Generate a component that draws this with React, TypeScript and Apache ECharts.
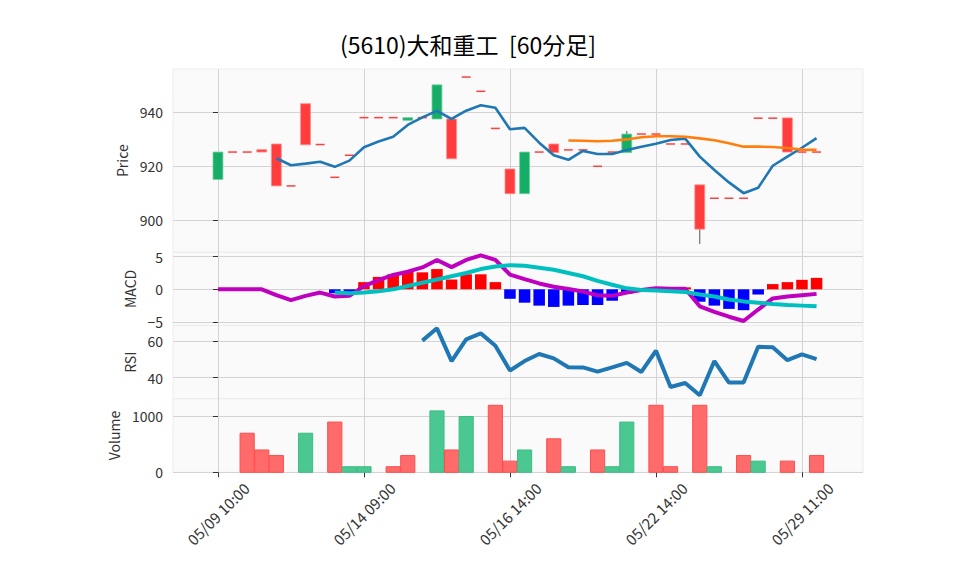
import React, { useEffect, useRef } from "react";
import * as echarts from "echarts";

const TITLE = "(5610)大和重工  [60分足]";
const X_TICK_INDEX = [0, 10, 20, 30, 40];
const X_TICK_LABELS = ["05/09 10:00", "05/14 09:00", "05/16 14:00", "05/22 14:00", "05/29 11:00"];

const OPEN = [915, 925.2, 925.2, 926.1, 928.2, 912.6, 943.2, 928, 915.8, 924, 938, 938, 938, 937, 938, 937.5, 937.5, 953.1, 947.8, 934, 918.9, 909.7, 925.2, 928.2, 926, 926, 919.9, 925.2, 925, 931.9, 931.9, 928.2, 928.2, 913, 908, 908, 908, 937.8, 937.8, 937.9, 925.2, 925.2];
const CLOSE = [925.2, 925.2, 925.2, 925.2, 912.6, 912.6, 927.9, 928, 915.8, 924, 938, 938, 938, 938, 938, 950.2, 922.7, 953.1, 947.8, 934, 909.7, 925.2, 925.2, 925.0, 926, 926, 919.9, 925.2, 931.9, 931.9, 931.9, 928.2, 928.2, 896.5, 908, 908, 908, 937.8, 937.8, 925.2, 925.2, 925.2];
const LOW = [915, 925.2, 925.2, 925.2, 912.6, 912.6, 927.9, 928, 915.8, 924, 938, 938, 938, 937, 938, 937.5, 922.7, 953.1, 947.8, 934, 909.7, 909.7, 925.2, 925.0, 926, 926, 919.9, 925.2, 925, 931.9, 931.9, 928.2, 928.2, 891, 908, 908, 908, 937.8, 937.8, 925.2, 925.2, 925.2];
const HIGH = [925.2, 925.2, 925.2, 926.1, 928.2, 912.6, 943.2, 928, 915.8, 924, 938, 938, 938, 938, 938, 950.2, 937.5, 953.1, 947.8, 934, 918.9, 925.2, 925.2, 928.2, 926, 926, 919.9, 925.2, 933, 931.9, 931.9, 928.2, 928.2, 913, 908, 908, 908, 937.8, 937.8, 937.9, 925.2, 925.2];
const VOLUME = [0, 0, 700, 400, 300, 0, 700, 0, 900, 100, 100, 0, 100, 300, 0, 1100, 400, 1000, 0, 1200, 200, 400, 0, 600, 100, 0, 400, 100, 900, 0, 1200, 100, 0, 1200, 100, 0, 300, 200, 0, 200, 0, 300];

const MA5 = [null, null, null, null, 922.9, 920.3, 920.9, 921.6, 919.7, 922, 927, 929.1, 930.9, 935.3, 938.1, 940.5, 937.5, 940.6, 942.6, 941.7, 933.7, 934.2, 928.7, 924, 922.3, 925.6, 924.5, 924.5, 926, 927.2, 928.3, 929.7, 930.2, 923.5, 918.5, 913.9, 909.9, 911.9, 920.1, 923.5, 926.8, 930.4];
const MA25 = [null, null, null, null, null, null, null, null, null, null, null, null, null, null, null, null, null, null, null, null, null, null, null, null, 929.5, 929.4, 929.2, 929.4, 929.9, 930.7, 931.1, 931.1, 930.9, 930.3, 929.6, 928.5, 927.2, 927.2, 927.1, 926.7, 926.1, 926.0];

const MACD = [0, 0, 0, 0, -0.9, -1.65, -1.0, -0.5, -1.1, -1.0, 0.5, 1.4, 2.2, 2.7, 3.35, 4.5, 3.4, 4.5, 5.2, 4.5, 2.25, 1.55, 0.9, 0.4, 0.05, -0.35, -0.9, -1.0, -0.5, -0.1, 0.15, 0.1, 0.1, -2.6, -3.45, -4.2, -4.85, -3.1, -1.4, -1.1, -0.9, -0.7];
const SIGNAL = [null, null, null, null, null, null, null, null, -0.5, -0.6, -0.5, -0.3, 0, 0.5, 1.0, 1.5, 2.0, 2.5, 3.1, 3.5, 3.7, 3.6, 3.3, 3.0, 2.5, 2.0, 1.3, 0.7, 0.15, -0.1, -0.2, -0.3, -0.4, -0.8, -1.1, -1.55, -1.85, -2.05, -2.25, -2.4, -2.5, -2.6];
const HIST = [null, null, null, null, null, null, null, null, -0.6, -0.45, 1.1, 1.9, 2.3, 2.7, 2.6, 3.1, 1.5, 2.3, 2.3, 1.1, -1.45, -2.05, -2.5, -2.7, -2.5, -2.4, -2.4, -1.75, -0.65, 0, 0.3, 0.35, 0.3, -1.9, -2.5, -3.0, -3.2, -0.8, 0.8, 1.1, 1.45, 1.75];

const RSI = [null, null, null, null, null, null, null, null, null, null, null, null, null, null, 60.4, 67.2, 49.1, 61.1, 64.4, 57.6, 43.9, 49.1, 53, 50.6, 45.7, 45.6, 43.3, 45.6, 48.1, 43.1, 54.8, 34.8, 37, 30.2, 49.1, 37.2, 37.2, 57, 56.7, 49.6, 52.8, 50.2];

const PRICE_TICKS = [900, 920, 940];
const MACD_TICKS = [-5, 0, 5];
const RSI_TICKS = [40, 60];
const VOLUME_TICKS = [0, 1000];

const FONT = '"Noto Sans CJK JP", "Noto Sans", sans-serif';

const toPairs = (arr: (number | null)[]) =>
  arr.map((v, i) => (v == null ? null : [i, v])).filter((p) => p !== null) as number[][];

export default function App() {
  const ref = useRef<HTMLDivElement>(null);

  useEffect(() => {
    if (!ref.current) return;
    const chart = echarts.init(ref.current, null, { renderer: "svg" });

    const X_MIN = -3.08;
    const X_MAX = 44.18;
    const gridBase = { left: 173, right: 95, show: true, backgroundColor: "#fafafa", borderColor: "#ececec", borderWidth: 1 };
    const grids = [
      { ...gridBase, top: 69, height: 183.3 },
      { ...gridBase, top: 252.3, height: 73.3 },
      { ...gridBase, top: 325.6, height: 73.3 },
      { ...gridBase, top: 398.9, height: 73.4 },
    ];

    const xAxes = grids.map((_, gi) => ({
      type: "value",
      gridIndex: gi,
      min: X_MIN,
      max: X_MAX,
      axisLine: { show: false },
      axisTick: { show: gi === 3, customValues: X_TICK_INDEX, length: 5, lineStyle: { color: "#333" } },
      axisLabel: { show: false, customValues: X_TICK_INDEX },
      splitLine: { show: true, lineStyle: { color: "#d3d3d3", width: 1 } },
    }));

    const yBase = (gi: number, min: number, max: number, ticks: number[], name: string, gap: number) => ({
      type: "value",
      gridIndex: gi,
      min,
      max,
      name,
      nameLocation: "middle",
      nameGap: gap,
      nameRotate: 90,
      nameTextStyle: { fontSize: 14, color: "#333", fontFamily: FONT },
      axisLine: { show: false },
      axisTick: { show: true, customValues: ticks, length: 5, lineStyle: { color: "#333" } },
      axisLabel: {
        customValues: ticks,
        fontSize: 14,
        color: "#333",
        margin: 10,
        fontFamily: FONT,
        formatter: (v: number) => String(v).replace("-", "\u2212"),
      },
      splitLine: { show: true, lineStyle: { color: "#d3d3d3", width: 1 } },
    });

    const yAxes = [
      yBase(0, 887.9, 956.1, PRICE_TICKS, "Price", 44),
      yBase(1, -5.56, 5.67, MACD_TICKS, "MACD", 35),
      yBase(2, 28.2, 68.7, RSI_TICKS, "RSI", 35),
      yBase(3, 0, 1315, VOLUME_TICKS, "Volume", 52),
    ];

    const candleData = OPEN.map((o, i) => [i, o, CLOSE[i], LOW[i], HIGH[i]]);
    const volumeData = VOLUME.map((v, i) => [i, v, i > 0 && CLOSE[i] > CLOSE[i - 1] ? 1 : 0]);
    const histData = HIST.map((v, i) => [i, v == null ? NaN : v]);

    const option: any = {
      animation: false,
      backgroundColor: "#ffffff",
      textStyle: { fontFamily: FONT },
      grid: grids,
      xAxis: xAxes,
      yAxis: yAxes,
      series: [
        {
          type: "custom",
          xAxisIndex: 0,
          yAxisIndex: 0,
          data: candleData,
          encode: { x: 0, y: [1, 2, 3, 4] },
          renderItem: (params: any, api: any) => {
            const i = api.value(0);
            const o = api.value(1);
            const c = api.value(2);
            const l = api.value(3);
            const h = api.value(4);
            const band = api.size([1, 0])[0];
            const w = band * 0.68;
            const pO = api.coord([i, o]);
            const pC = api.coord([i, c]);
            const pL = api.coord([i, l]);
            const pH = api.coord([i, h]);
            const x = pO[0];
            const up = c > o;
            const children: any[] = [];
            if (h > Math.max(o, c) || l < Math.min(o, c)) {
              children.push({
                type: "line",
                shape: { x1: x, y1: pH[1], x2: x, y2: pL[1] },
                style: { stroke: "#555555", lineWidth: 1 },
              });
            }
            if (o === c) {
              children.push({
                type: "line",
                shape: { x1: x - w / 2 + 0.5, y1: pO[1], x2: x + w / 2 - 0.5, y2: pO[1] },
                style: { stroke: "#ff4040", lineWidth: 1.5 },
              });
            } else {
              const top = Math.min(pO[1], pC[1]);
              const hh = Math.abs(pO[1] - pC[1]);
              children.push({
                type: "rect",
                shape: { x: x - w / 2, y: top, width: w, height: hh },
                style: up
                  ? { fill: "#16ad67", stroke: "#73cfa2", lineWidth: 0.8 }
                  : { fill: "#ff3d3d", stroke: "#ff8f8f", lineWidth: 0.8 },
              });
            }
            return { type: "group", children };
          },
        },
        {
          type: "line",
          xAxisIndex: 0,
          yAxisIndex: 0,
          data: toPairs(MA5),
          symbol: "none",
          lineStyle: { color: "#1f77b4", width: 2.6 },
        },
        {
          type: "line",
          xAxisIndex: 0,
          yAxisIndex: 0,
          data: toPairs(MA25),
          symbol: "none",
          lineStyle: { color: "#ff7f0e", width: 2.6 },
        },
        {
          type: "custom",
          xAxisIndex: 1,
          yAxisIndex: 1,
          data: histData,
          encode: { x: 0, y: 1 },
          renderItem: (params: any, api: any) => {
            const i = api.value(0);
            const v = api.value(1);
            if (v == null || isNaN(v) || v === 0) return null;
            const band = api.size([1, 0])[0];
            const w = band * 0.79;
            const p = api.coord([i, v]);
            const p0 = api.coord([i, 0]);
            return {
              type: "rect",
              shape: { x: p[0] - w / 2, y: Math.min(p[1], p0[1]), width: w, height: Math.abs(p[1] - p0[1]) },
              style: { fill: v > 0 ? "#ff0000" : "#0000ff" },
            };
          },
        },
        {
          type: "line",
          xAxisIndex: 1,
          yAxisIndex: 1,
          data: toPairs(MACD),
          symbol: "none",
          lineStyle: { color: "#bf00bf", width: 4 },
        },
        {
          type: "line",
          xAxisIndex: 1,
          yAxisIndex: 1,
          data: toPairs(SIGNAL),
          symbol: "none",
          lineStyle: { color: "#00bfbf", width: 4 },
        },
        {
          type: "line",
          xAxisIndex: 2,
          yAxisIndex: 2,
          data: toPairs(RSI),
          symbol: "none",
          lineStyle: { color: "#1f77b4", width: 4 },
        },
        {
          type: "custom",
          xAxisIndex: 3,
          yAxisIndex: 3,
          data: volumeData,
          encode: { x: 0, y: 1 },
          renderItem: (params: any, api: any) => {
            const i = api.value(0);
            const v = api.value(1);
            const upDir = api.value(2);
            if (!v) return null;
            const band = api.size([1, 0])[0];
            const w = band * 0.97;
            const p = api.coord([i, v]);
            const p0 = api.coord([i, 0]);
            return {
              type: "rect",
              shape: { x: p[0] - w / 2, y: p[1], width: w, height: p0[1] - p[1] },
              style: upDir
                ? { fill: "#4bc791", stroke: "#3dbd84", lineWidth: 1 }
                : { fill: "#ff6b6b", stroke: "#ff4d4d", lineWidth: 1 },
            };
          },
        },
      ],
      graphic: [
        {
          id: "title",
          type: "text",
          x: 468,
          y: 44,
          style: { text: TITLE, fontSize: 23, fill: "#000", fontFamily: FONT, align: "center", verticalAlign: "middle" },
        },
      ],
    };

    chart.setOption(option);

    // x tick labels, placed via the library's scale, rotated 45° and centred on the tick
    const canvas = document.createElement("canvas");
    const ctx = canvas.getContext("2d");
    const fontSize = 15;
    if (ctx) ctx.font = `${fontSize}px "Noto Sans CJK JP"`;
    const labels = X_TICK_INDEX.map((v, k) => {
      const px = chart.convertToPixel({ gridIndex: 3 }, [v, 0]) as number[];
      const text = X_TICK_LABELS[k];
      const L = ctx ? ctx.measureText(text).width : 75;
      return {
        id: "xl" + k,
        type: "text",
        x: px[0] + L * 0.3536,
        y: px[1] + 13,
        rotation: Math.PI / 4,
        style: { text, fontSize, fill: "#333", fontFamily: FONT, align: "right", verticalAlign: "middle" },
      };
    });
    chart.setOption({ graphic: labels });

    return () => chart.dispose();
  }, []);

  return <div ref={ref} style={{ position: "fixed", left: 0, top: 0, width: 958, height: 575 }} />;
}
